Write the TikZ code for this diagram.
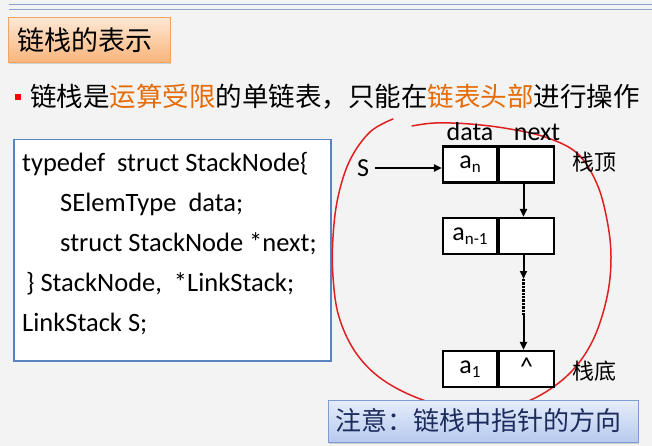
\documentclass[tikz,border=0pt]{standalone}
\usepackage{fontspec}
\setmainfont{Carlito}
\newfontfamily\cjk{Noto Sans CJK SC}
\usetikzlibrary{arrows.meta,shadows}
\definecolor{bgc}{HTML}{F3F3F3}
\definecolor{linec}{HTML}{8CA2CB}
\definecolor{orangetxt}{HTML}{E46C0A}
\definecolor{titletop}{HTML}{FEE8D4}
\definecolor{titlebot}{HTML}{F9B47A}
\definecolor{titleborder}{HTML}{F0A565}
\definecolor{codeborder}{HTML}{5A82C0}
\definecolor{notetop}{HTML}{E6EDFA}
\definecolor{notebot}{HTML}{B6C9EE}
\definecolor{noteborder}{HTML}{7F9CD2}
\definecolor{notetxt}{HTML}{1C2C5C}
\definecolor{redpen}{HTML}{E02020}
\tikzset{
  cell/.style={draw=black, line width=2.2pt, fill=white, minimum height=36pt, inner sep=0pt, font=\fontsize{26}{26}\selectfont},
  codeline/.style={anchor=west, inner sep=0pt, text height=18pt, text depth=5pt, font=\fontsize{26.5}{30}\selectfont},
  lbl/.style={inner sep=0pt, font=\fontsize{26}{26}\selectfont},
  cjklbl/.style={inner sep=0pt, font=\cjk\fontsize{22}{22}\selectfont},
  ptr/.style={line width=2pt, -{Triangle[length=8pt,width=7pt]}},
}
\newcommand{\sub}[1]{\raisebox{-4pt}{\fontsize{17}{17}\selectfont #1}}
\begin{document}
\begin{tikzpicture}[x=1pt,y=-1pt]
\useasboundingbox (0,0) rectangle (652,446);
\fill[bgc] (0,0) rectangle (652,446);
% top double line
\draw[linec, line width=0.9pt] (9,4) -- (652,4);
\draw[linec, line width=0.9pt] (9,9) -- (652,9);
% title
\node[draw=titleborder, line width=0.8pt, top color=titletop, bottom color=titlebot,
      minimum width=162pt, minimum height=45pt, anchor=north west, inner sep=0pt,
      drop shadow={shadow xshift=1pt, shadow yshift=-1.5pt, opacity=0.3}] (title) at (8,17) {};
\node[inner sep=0pt, anchor=west, font=\cjk\fontsize{27}{27}\selectfont] (titletext) at (17,40) {链栈的表示};
% bullet
\node[fill=red, minimum size=6pt, inner sep=0pt] (bullet) at (17.5,97) {};
\node[inner sep=0pt, anchor=west, font=\cjk\fontsize{26.5}{26.5}\selectfont] (bt) at (30,97)
  {链栈是\textcolor{orangetxt}{运算受限}的单链表，只能在\textcolor{orangetxt}{链表头部}进行操作};
% code box
\node[draw=codeborder, line width=1.5pt, fill=white, anchor=north west, minimum width=317pt, minimum height=221pt, inner sep=0pt] (code) at (13,139) {};
\node[codeline] (c1) at (22,165) {typedef\ \ struct StackNode\{};
\node[codeline] (c2) at (60,205) {SElemType\ \ data;};
\node[codeline] (c3) at (60,245) {struct StackNode *next;};
\node[codeline] (c4) at (26,285) {\} StackNode,\ \ *LinkStack;};
\node[codeline] (c5) at (22,325) {LinkStack S;};
% red hand-drawn loop
\draw[redpen, line width=1.5pt, line cap=round] plot[smooth, tension=0.6] coordinates {
  (393,119) (370,132) (350,160) (338,197) (333,237) (333,277) (339,317) (356,353)
  (383,380) (423,400) (463,408) (503,408) (537,397) (570,373) (593,340) (607,297)
  (611,257) (607,220) (597,184) (578,154) (548,138) (510,129) (470,124) (435,123) (412,126)};
% list nodes
\node[cell, minimum width=54pt] (and) at (470,164.5) {a\sub{n}};
\node[cell, minimum width=55pt, anchor=west] (ann) at (and.east) {};
\node[cell, minimum width=54pt] (an1d) at (470,236) {a\sub{n-1}};
\node[cell, minimum width=55pt, anchor=west] (an1n) at (an1d.east) {};
\node[cell, minimum width=54pt] (a1d) at (470,369) {a\sub{1}};
\node[cell, minimum width=55pt, anchor=west] (a1n) at (a1d.east) {\raisebox{5pt}{\^{}}};
\node[lbl] (data) at (470,132) {data};
\node[lbl] (next) at (537,132) {next};
\node[lbl] (S) at (363,168) {S};
\node[cjklbl] (top) at (594,162) {栈顶};
\node[cjklbl] (bot) at (594,371) {栈底};
\coordinate (d1) at (523.5,279);
\coordinate (d2) at (523.5,315);
\draw[ptr] (S.east) ++(6,0) -- (S.east -| and.west);
\draw[ptr] (ann.south -| 523.5,0) -- (an1n.north -| 523.5,0);
\draw[ptr] (an1n.south -| 523.5,0) -- (d1);
\draw[line width=2.4pt, densely dotted] (d1) -- (d2);
\draw[ptr] (d2) -- (a1n.north -| 523.5,0);
% note
\node[draw=noteborder, line width=0.8pt, top color=notetop, bottom color=notebot,
      minimum width=310pt, minimum height=42pt, anchor=north west, inner sep=0pt,
      drop shadow={shadow xshift=1pt, shadow yshift=-1.5pt, opacity=0.3}] (note) at (328,400) {};
\node[inner sep=0pt, anchor=west, text=notetxt, font=\cjk\fontsize{26}{26}\selectfont] (notetext) at (335,421) {注意：链栈中指针的方向};
\end{tikzpicture}
\end{document}
